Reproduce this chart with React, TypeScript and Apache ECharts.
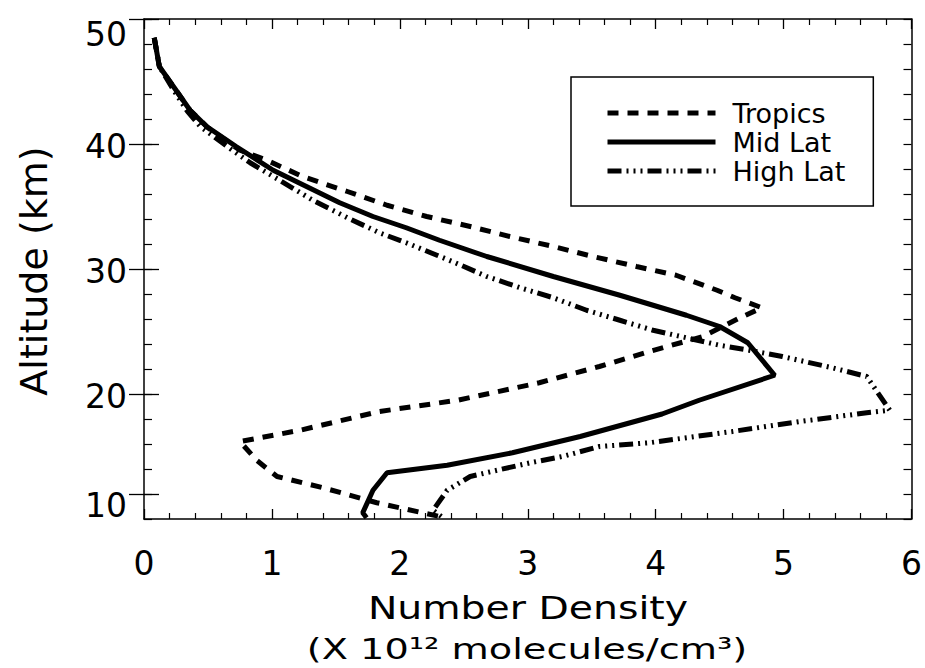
import React, { useEffect, useRef } from "react";
import * as echarts from "echarts";

const FONT = "DejaVu Sans";

const seriesNames = ["Tropics", "Mid Lat", "High Lat"];

// Number density (x 10^12 molecules/cm^3) and altitude (km)
const tropicsDensity = [0.08, 0.12, 0.23, 0.36, 0.5, 0.75, 0.96, 1.24, 1.59, 1.9, 2.21, 2.55, 2.86, 3.2, 3.51, 3.85, 4.16, 4.48, 4.62, 4.83, 4.66, 4.37, 3.95, 3.56, 3.09, 2.45, 1.84, 1.22, 0.75, 0.88, 1.04, 1.4, 1.82, 2.31];
const tropicsAltitude = [48.5, 46.2, 44.6, 42.7, 41.3, 39.5, 38.7, 37.4, 36.2, 35.1, 34.2, 33.4, 32.6, 31.8, 31.0, 30.2, 29.5, 28.3, 27.7, 26.9, 26.1, 24.6, 23.4, 22.2, 20.9, 19.5, 18.6, 17.1, 16.2, 14.7, 13.4, 12.5, 11.3, 10.2];

const midLatDensity = [0.08, 0.12, 0.23, 0.36, 0.49, 0.72, 1.01, 1.27, 1.53, 1.79, 2.05, 2.31, 2.68, 3.2, 3.72, 4.24, 4.5, 4.72, 4.93, 4.34, 4.05, 3.41, 2.88, 2.37, 1.9, 1.79, 1.71, 1.74];
const midLatAltitude = [48.5, 46.2, 44.6, 42.7, 41.4, 39.8, 37.9, 36.6, 35.3, 34.2, 33.3, 32.3, 31.0, 29.4, 27.9, 26.3, 25.4, 24.1, 21.5, 19.5, 18.4, 16.6, 15.3, 14.3, 13.7, 12.3, 10.5, 10.1];

const highLatDensity = [0.08, 0.12, 0.22, 0.34, 0.44, 0.65, 0.83, 1.06, 1.32, 1.59, 1.84, 2.05, 2.29, 2.41, 2.68, 2.94, 3.2, 3.46, 3.72, 3.98, 4.24, 4.5, 4.73, 4.99, 5.38, 5.65, 5.83, 5.65, 5.13, 4.6, 3.95, 3.56, 3.27, 3.02, 2.76, 2.55, 2.37, 2.26, 2.35];
const highLatAltitude = [48.5, 46.2, 44.5, 42.6, 41.4, 39.8, 38.5, 37.1, 35.5, 34.1, 32.9, 32.1, 31.1, 30.6, 29.4, 28.5, 27.7, 26.7, 25.9, 25.1, 24.5, 23.9, 23.5, 23.0, 22.1, 21.4, 18.7, 18.5, 17.8, 17.0, 16.1, 15.8, 15.0, 14.5, 13.9, 13.4, 12.3, 10.7, 10.0];

const xTickLabels = [0, 1, 2, 3, 4, 5, 6];
const yTickLabels = [10, 20, 30, 40, 50];
const yMajorTicks = [12, 20, 30, 40, 50];

const pairs = (xs: number[], ys: number[]) => xs.map((x, i) => [x, ys[i]]);

const BLACK = "#000";

export default function App() {
  const ref = useRef<HTMLDivElement>(null);

  useEffect(() => {
    if (!ref.current) return;
    const chart = echarts.init(ref.current, undefined, { renderer: "svg" });

    const yLabelPos = yTickLabels.map((v) =>
      v === yTickLabels[0] ? v + 1.05 : v === yTickLabels[yTickLabels.length - 1] ? v - 1.25 : v - 0.2
    );

    const xAxisBase = (position: "bottom" | "top", showLabel: boolean) => ({
      type: "value" as const,
      min: xTickLabels[0],
      max: xTickLabels[xTickLabels.length - 1],
      interval: 1,
      position,
      axisLine: { show: true, onZero: false, lineStyle: { color: BLACK, width: 1.5 } },
      axisTick: { show: true, inside: true, length: 10, lineStyle: { color: BLACK, width: 1.3 } },
      minorTick: { show: true, splitNumber: 5, length: 6, lineStyle: { color: BLACK, width: 1.2 } },
      splitLine: { show: false },
      minorSplitLine: { show: false },
      axisLabel: {
        show: showLabel,
        margin: 28,
        fontFamily: FONT,
        fontSize: 33,
        color: BLACK,
        formatter: (v: number) => String(v),
      },
    });

    const yMinor = (position: "left" | "right") => ({
      type: "value" as const,
      min: 10,
      max: 50,
      interval: 2,
      position,
      axisLine: { show: true, onZero: false, lineStyle: { color: BLACK, width: 1.5 } },
      axisTick: { show: true, inside: true, length: 8, lineStyle: { color: BLACK, width: 1.2 } },
      axisLabel: { show: false },
      splitLine: { show: false },
    });

    const yMajor = (position: "left" | "right", showLabel: boolean) => ({
      type: "value" as const,
      min: 10,
      max: 50,
      position,
      axisLine: { show: false },
      axisTick: {
        show: true,
        inside: true,
        length: 15,
        customValues: yMajorTicks,
        lineStyle: { color: BLACK, width: 1.3 },
      },
      axisLabel: {
        show: showLabel,
        customValues: yLabelPos,
        margin: 17,
        fontFamily: FONT,
        fontSize: 33,
        color: BLACK,
        formatter: (v: number) => String(Math.round(v / 10) * 10),
      },
      splitLine: { show: false },
    });

    const lineSeries = (name: string, data: number[][], type: any) => ({
      name,
      type: "line" as const,
      data,
      xAxisIndex: 0,
      yAxisIndex: 0,
      symbol: "none",
      showSymbol: false,
      smooth: false,
      color: BLACK,
      lineStyle: { color: BLACK, width: 5, type },
    });

    chart.setOption({
      animation: false,
      backgroundColor: "#fff",
      grid: { left: 144, right: 10, top: 19, bottom: 149, containLabel: false },
      xAxis: [xAxisBase("bottom", true), xAxisBase("top", false)],
      yAxis: [yMinor("left"), yMajor("left", true), yMinor("right"), yMajor("right", false)],
      legend: {
        orient: "vertical",
        left: 571,
        top: 77,
        padding: [22, 28, 21, 34],
        borderColor: BLACK,
        borderWidth: 1.5,
        backgroundColor: "#fff",
        itemWidth: 108,
        itemHeight: 14,
        itemGap: 1,
        itemStyle: { opacity: 0 },
        lineStyle: { width: 5 },
        textStyle: {
          fontFamily: FONT,
          fontSize: 27,
          lineHeight: 28,
          color: BLACK,
          padding: [0, 0, 0, 12],
        },
        data: seriesNames,
      },
      graphic: [
        {
          type: "text",
          x: 34,
          y: 271,
          rotation: Math.PI / 2,
          style: {
            text: "Altitude (km)",
            fontFamily: FONT,
            fontSize: 38,
            fill: BLACK,
            align: "center",
            verticalAlign: "middle",
          },
        },
        {
          type: "text",
          x: 528,
          y: 608,
          scaleX: 1.23,
          style: {
            text: "Number Density",
            fontFamily: FONT,
            fontSize: 32,
            fill: BLACK,
            align: "center",
            verticalAlign: "middle",
          },
        },
        {
          type: "text",
          x: 527,
          y: 649,
          scaleX: 1.32,
          style: {
            text: "(X 10\u00B9\u00B2 molecules/cm\u00B3)",
            fontFamily: FONT,
            fontSize: 29,
            fill: BLACK,
            align: "center",
            verticalAlign: "middle",
          },
        },
      ],
      series: [
        lineSeries(seriesNames[0], pairs(tropicsDensity, tropicsAltitude), [11, 9]),
        lineSeries(seriesNames[1], pairs(midLatDensity, midLatAltitude), "solid"),
        lineSeries(seriesNames[2], pairs(highLatDensity, highLatAltitude), [14, 5, 2, 5, 2, 5, 2, 5]),
      ],
    });

    return () => chart.dispose();
  }, []);

  return <div ref={ref} style={{ width: 925, height: 668, position: "absolute", left: 0, top: 0 }} />;
}
